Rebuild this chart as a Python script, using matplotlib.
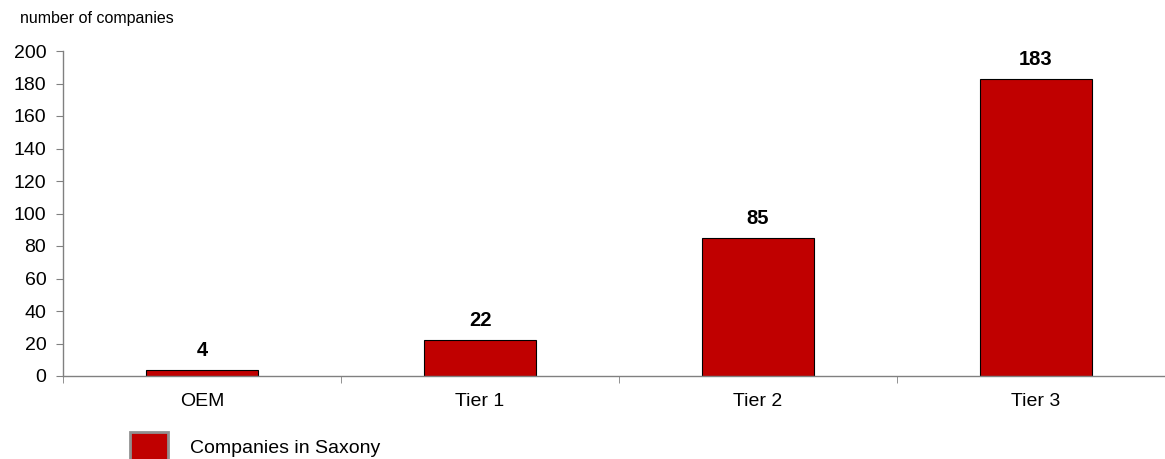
import numpy as np
import matplotlib.pyplot as plt
from matplotlib.patches import Patch

categories = ["OEM", "Tier 1", "Tier 2", "Tier 3"]
companies = [4, 22, 85, 183]
series_name = "Companies in Saxony"

plt.rcParams['font.family'] = ['Liberation Sans', 'DejaVu Sans']

bar_color = "#C00000"
axis_grey = "#808080"

fig = plt.figure(figsize=(11.65, 4.59), dpi=100)
ax = fig.add_axes([63 / 1165, 83 / 459, 1112 / 1165, 325 / 459])

x = np.arange(len(categories))
ax.bar(x, companies, width=0.4, color=bar_color, edgecolor="black", linewidth=0.8, zorder=2)

for xi, v in zip(x, companies):
    ax.text(xi, v + 6, str(v), ha="center", va="bottom", fontsize=14.5, fontweight="bold")

ax.set_xlim(-0.5, len(categories) - 0.5)
ax.set_ylim(0, 200)
ax.set_yticks(range(0, 201, 20))
ax.tick_params(axis="y", labelsize=14, length=5, color=axis_grey, pad=7)

ax.set_xticks(x)
ax.set_xticklabels(categories)
ax.set_xticks(np.arange(-0.5, len(categories)), minor=True)
ax.tick_params(axis="x", which="major", length=0, labelsize=14, pad=12)
ax.tick_params(axis="x", which="minor", length=5, color=axis_grey)

for side in ["top", "right"]:
    ax.spines[side].set_visible(False)
for side in ["left", "bottom"]:
    ax.spines[side].set_color(axis_grey)
    ax.spines[side].set_linewidth(1)

fig.text(20 / 1165, 1 - 18 / 459, "number of companies", fontsize=11.5, va="center")

handle = Patch(facecolor=bar_color, edgecolor="#909090", linewidth=2)
fig.legend(handles=[handle], labels=[series_name], loc="upper left",
           bbox_to_anchor=(112 / 1165, 1 - 414 / 459), frameon=False,
           fontsize=14, handlelength=2.0, handleheight=2.0, handletextpad=1.1)

fig.savefig("out.png", dpi=100)
